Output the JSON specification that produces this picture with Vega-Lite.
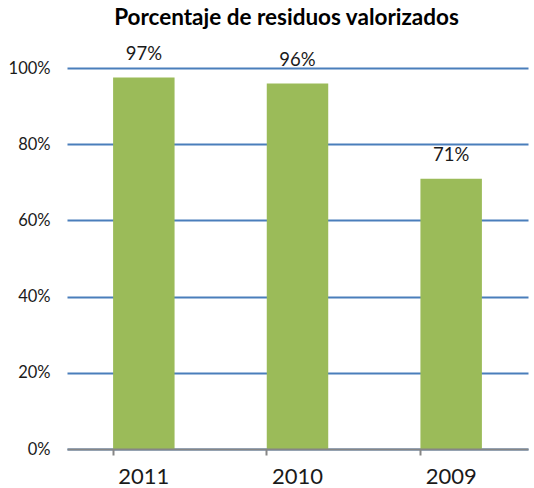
{
  "$schema": "https://vega.github.io/schema/vega-lite/v6.json",
  "autosize": "none",
  "width": 461,
  "height": 381,
  "padding": {"left": 67, "top": 68, "right": 6, "bottom": 39},
  "background": "white",
  "title": {
    "text": "Porcentaje de residuos valorizados",
    "font": "Lato",
    "fontSize": 22.5,
    "fontWeight": "bold",
    "color": "#000000",
    "anchor": "middle",
    "frame": "group",
    "dx": -11,
    "offset": 15
  },
  "data": {
    "values": [
      {"year": "2011", "value": 0.975, "label": "97%"},
      {"year": "2010", "value": 0.959, "label": "96%"},
      {"year": "2009", "value": 0.709, "label": "71%"}
    ]
  },
  "config": {
    "view": {"stroke": null},
    "font": "Lato"
  },
  "encoding": {
    "x": {
      "field": "year",
      "type": "nominal",
      "sort": null,
      "scale": {"paddingInner": 0.6, "paddingOuter": 0.3},
      "axis": {
        "title": null,
        "labelAngle": 0,
        "labelFont": "Lato",
        "labelFontSize": 22,
        "labelColor": "#1a1a1a",
        "labelPadding": 11,
        "bandPosition": 0,
        "domainColor": "#868686",
        "domainWidth": 2,
        "tickColor": "#868686",
        "tickWidth": 2,
        "tickSize": 6,
        "grid": false,
        "zindex": 2
      }
    },
    "y": {
      "field": "value",
      "type": "quantitative",
      "scale": {"domain": [0, 1], "nice": false},
      "axis": {
        "title": null,
        "format": ".0%",
        "values": [0, 0.2, 0.4, 0.6, 0.8, 1],
        "labelFont": "Lato",
        "labelFontSize": 16.5,
        "labelColor": "#1a1a1a",
        "labelPadding": 17,
        "ticks": false,
        "domain": false,
        "grid": true,
        "gridColor": "#4A7EBB",
        "gridWidth": 2,
        "zindex": 0
      }
    }
  },
  "layer": [
    {
      "mark": {"type": "bar", "color": "#9BBB59"}
    },
    {
      "mark": {"type": "text", "font": "Lato", "fontSize": 18.5, "color": "#1a1a1a", "baseline": "alphabetic", "dy": -18},
      "encoding": {"text": {"field": "label"}}
    }
  ]
}
